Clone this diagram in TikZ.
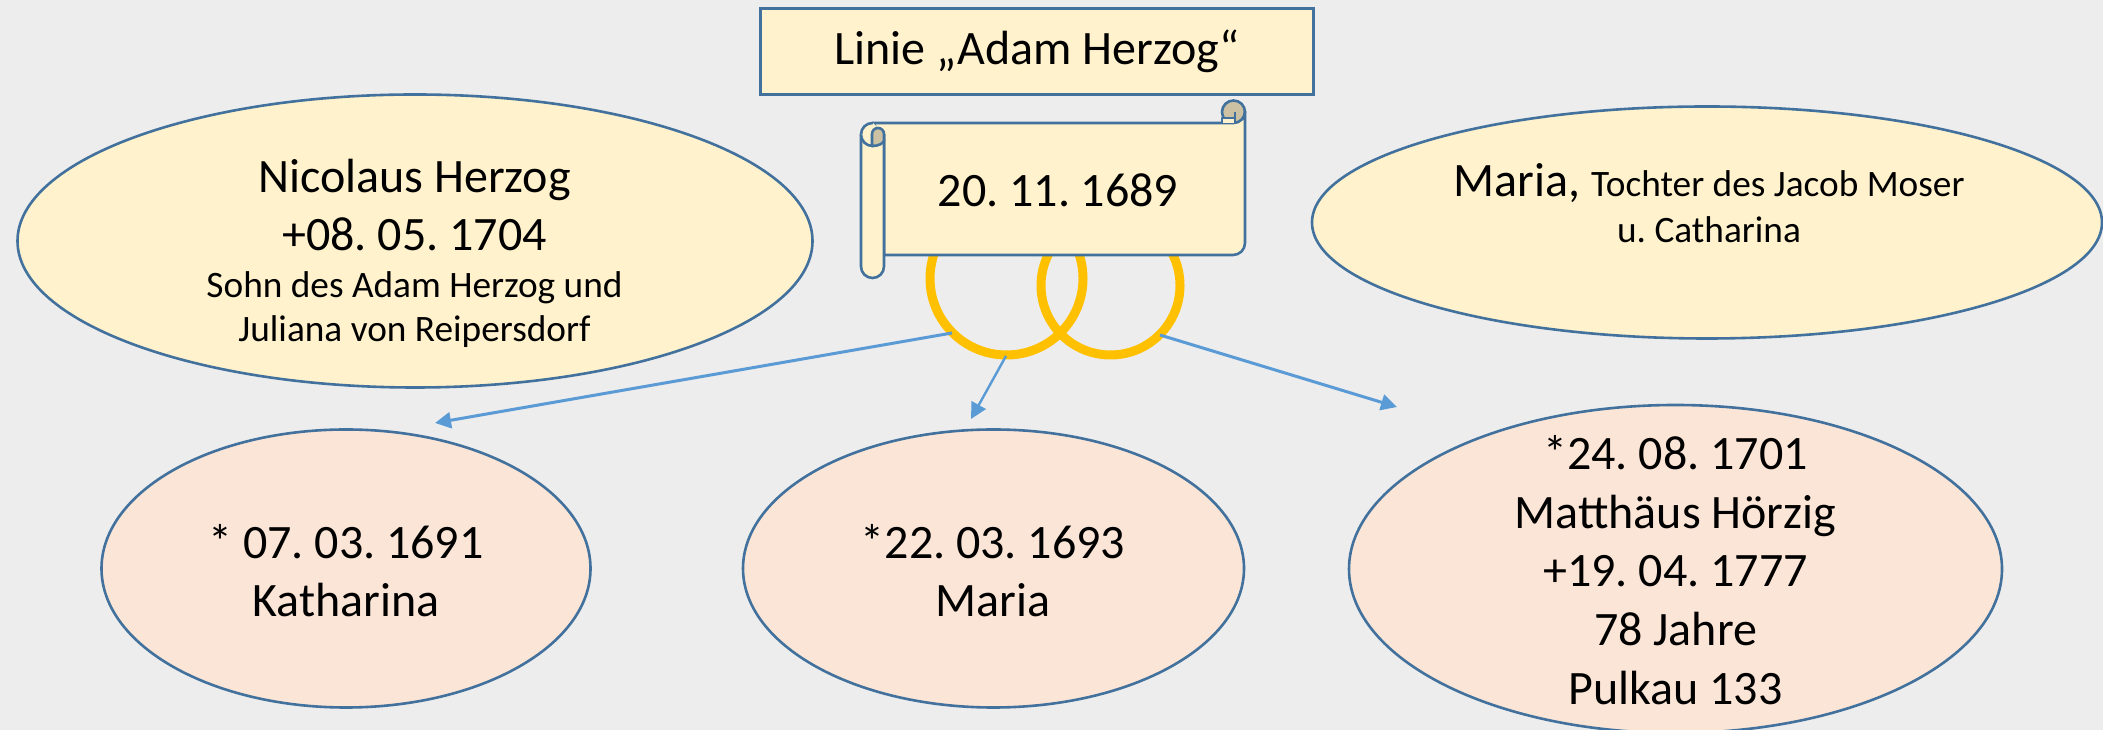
\documentclass[tikz,border=0pt]{standalone}
\usepackage{fontspec}
\setmainfont{Carlito}
\usetikzlibrary{shapes.geometric,arrows.meta}
\frenchspacing
\definecolor{bg}{HTML}{EDEDED}
\definecolor{cream}{HTML}{FFF2CC}
\definecolor{rose}{HTML}{FBE5D6}
\definecolor{edge}{HTML}{41719C}
\definecolor{linkc}{HTML}{5B9BD5}
\definecolor{ringc}{HTML}{FFC000}
\definecolor{curl}{HTML}{CCC2A3}
\newcommand{\bigt}{\fontsize{48}{58.6}\selectfont}
\newcommand{\smallt}{\fontsize{37.3}{45}\selectfont}
\tikzset{
  oval/.style={ellipse,draw=edge,line width=2.6pt,inner sep=0pt},
  parent/.style={oval,fill=cream},
  child/.style={oval,fill=rose},
  txt/.style={align=center,inner sep=0pt,font=\bigt},
  ringshape/.style={circle,draw=ringc,line width=9pt,inner sep=0pt},
  scrollline/.style={draw=edge,line width=2.6pt,line join=round},
  arrowline/.style={draw=linkc,line width=3pt,-{Triangle[length=16pt,width=16pt]}}
}
\begin{document}
\begin{tikzpicture}[x=1pt,y=1pt]
\useasboundingbox (0,0) rectangle (2103,730);
\fill[bg] (0,0) rectangle (2103,730);
% rings
\node[ringshape,minimum size=153pt] (ringL) at (1006.5,451.5) {};
\node[ringshape,minimum size=139pt] (ringR) at (1110.5,444.5) {};
% scroll
\path[scrollline,fill=curl] (1233.5,618) circle[radius=11.5];
\path[scrollline,fill=cream] (873,607) -- (1233.5,607) arc[start angle=-90,end angle=0,radius=11.5] -- (1245,487) arc[start angle=0,end angle=-90,radius=12] -- (884,475) -- (884,590) -- cycle;
\path[scrollline,fill=cream] (1222,607) -- (1222,612) -- (1235,612) -- (1235,607);
\path[scrollline] (1235,612) -- (1235,618);
\path[scrollline,fill=cream] (884,596) -- (884,463.5) arc[start angle=0,end angle=-180,radius=11.5] -- (861,595.5) arc[start angle=180,end angle=90,radius=11.5] -- (873,607);
\path[scrollline,fill=cream] (861,595.5) arc[start angle=180,end angle=360,radius=11.5];
\path[scrollline,fill=curl] (872,584) -- (872,596) arc[start angle=180,end angle=0,radius=6] -- (884,590) arc[start angle=0,end angle=-90,x radius=12,y radius=6] -- cycle;
\node[txt] (date) at (1058,540) {20. 11. 1689};
% header
\node[draw=edge,line width=2.6pt,fill=cream,minimum width=553pt,minimum height=86pt,inner sep=0pt,font=\bigt] (title) at (1037,678.5) {Linie „Adam Herzog“};
% parents
\node[parent,minimum width=795pt,minimum height=293pt] (father) at (415,489) {};
\node[txt] (fathertext) at (414.5,476.5) {\bigt Nicolaus Herzog\\\bigt +08. 05. 1704\\[-11.6pt]\smallt Sohn des Adam Herzog und\\[-14.6pt]\smallt Juliana von Reipersdorf};
\node[parent,minimum width=790pt,minimum height=232pt] (mother) at (1707,507.5) {};
\node[txt] (mothertext) at (1709,527) {\bigt Maria, \smallt Tochter des Jacob Moser\\[-12pt]\smallt u. Catharina};
% children
\node[child,minimum width=489pt,minimum height=278pt] (kath) at (346,161.5) {};
\node[txt] (kathtext) at (346,159.5) {* 07. 03. 1691\\Katharina};
\node[child,minimum width=501pt,minimum height=278pt] (mar) at (993.5,161.5) {};
\node[txt] (martext) at (993,159.5) {*22. 03. 1693\\Maria};
\node[child,minimum width=653pt,minimum height=328pt] (matt) at (1675.5,161) {};
\node[txt] (matttext) at (1675.5,160) {*24. 08. 1701\\Matthäus Hörzig\\+19. 04. 1777\\78 Jahre\\Pulkau 133};
% connectors
\coordinate (s1) at (952,397);
\coordinate (e1) at (435,307);
\coordinate (s2) at (1006,374);
\coordinate (e2) at (971,311);
\coordinate (s3) at (1160,395);
\coordinate (e3) at (1397,323);
\draw[arrowline] (s1) -- (e1);
\draw[arrowline,line width=2.4pt] (s2) -- (e2);
\draw[arrowline] (s3) -- (e3);
\end{tikzpicture}
\end{document}
